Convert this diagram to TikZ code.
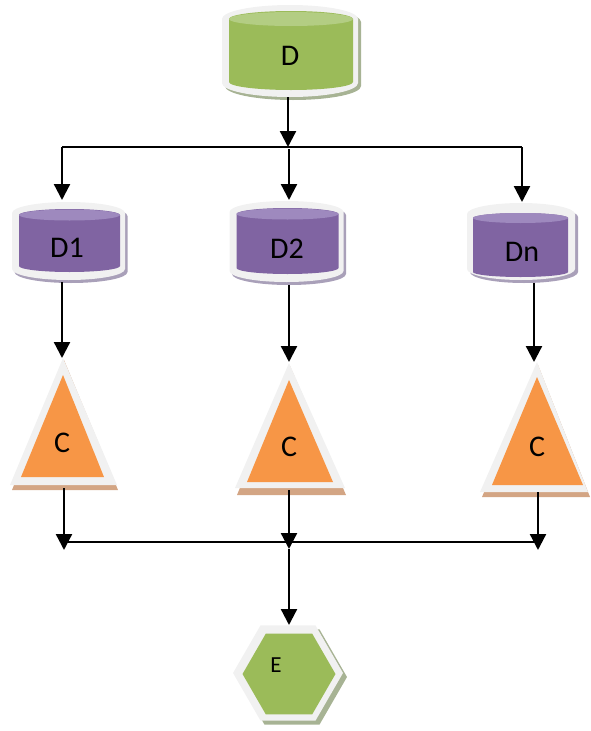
\documentclass[tikz,border=0pt]{standalone}
\usepackage{fontspec}
\setmainfont{Carlito}
\usetikzlibrary{arrows.meta}
\definecolor{rim}{HTML}{F1F1F1}
\definecolor{bodyG}{HTML}{9BBB59}
\definecolor{topG}{HTML}{B3CD83}
\definecolor{shG}{HTML}{A7B394}
\definecolor{bodyP}{HTML}{8064A2}
\definecolor{topP}{HTML}{9E89BE}
\definecolor{shP}{HTML}{A9A0B9}
\definecolor{bodyO}{HTML}{F79646}
\definecolor{shO}{HTML}{D3A584}
\newcommand{\cylshape}[6]{%
  \path[#6] (#1-#4,-#2) -- (#1-#4,-#3)
    arc[start angle=180,end angle=360,x radius=#4,y radius=#5]
    -- (#1+#4,-#2)
    arc[start angle=0,end angle=180,x radius=#4,y radius=#5] -- cycle;}
\newcommand{\trishape}[6]{%
  \path[#6] (#1,-#2) -- (#5,-#3) -- (#4,-#3) -- cycle;}
\newcommand{\hexshape}[4]{%
  \path[#4] (#1+#3,-#2) -- (#1+0.5*#3,-#2-0.866*#3) -- (#1-0.5*#3,-#2-0.866*#3)
    -- (#1-#3,-#2) -- (#1-0.5*#3,-#2+0.866*#3) -- (#1+0.5*#3,-#2+0.866*#3) -- cycle;}
\begin{document}
\begin{tikzpicture}[x=1pt,y=1pt,
  lbl/.style={inner sep=0pt,font=\fontsize{30}{34}\selectfont},
  lblsmall/.style={inner sep=0pt,font=\fontsize{23}{26}\selectfont},
  conn/.style={line width=2.3pt,-{Triangle[length=16pt,width=16pt]}},
  bus/.style={line width=1.8pt}]
\useasboundingbox (0,0) rectangle (590,-731);
% ---- D ----
\cylshape{293}{22}{86}{68}{14}{fill=shG}
\cylshape{290}{19}{83}{68}{14}{fill=rim}
\cylshape{291}{19}{82}{62}{8}{fill=bodyG}
\fill[topG] (291,-19) ellipse[x radius=62,y radius=7];
\node[lbl] (D) at (290,-56) {D};
% ---- D1 ----
\cylshape{71}{216}{272}{56.5}{11}{fill=shP}
\cylshape{68.5}{213}{269}{56.5}{11}{fill=rim}
\cylshape{69.5}{215}{266}{50.5}{6}{fill=bodyP}
\fill[topP] (69.5,-215) ellipse[x radius=50.5,y radius=5.5];
\node[lbl] (D1) at (67,-248) {D1};
% ---- D2 ----
\cylshape{289}{215}{274}{57}{11}{fill=shP}
\cylshape{286.5}{212}{271}{57}{11}{fill=rim}
\cylshape{287.5}{214}{268}{51}{6}{fill=bodyP}
\fill[topP] (287.5,-214) ellipse[x radius=51,y radius=5.5];
\node[lbl] (D2) at (287,-249) {D2};
% ---- Dn ----
\cylshape{524}{217}{272}{54}{11}{fill=shP}
\cylshape{521}{214}{269}{54}{11}{fill=rim}
\cylshape{520.5}{218}{272}{47.5}{5}{fill=bodyP}
\fill[topP] (520.5,-218) ellipse[x radius=47.5,y radius=5];
\node[lbl] (Dn) at (522,-252) {Dn};
% ---- triangles ----
\trishape{64}{360}{490}{12}{118}{fill=shO}
\trishape{63}{358}{485}{10}{117}{fill=rim}
\trishape{63}{375}{477}{21}{104}{fill=bodyO}
\node[lbl] (C1) at (62,-443) {C};
\trishape{290}{366}{495}{237}{346}{fill=shO}
\trishape{289}{363}{488}{235}{345}{fill=rim}
\trishape{289}{380}{482}{247}{333}{fill=bodyO}
\node[lbl] (C2) at (289,-447) {C};
\trishape{538}{365}{497}{482}{590}{fill=shO}
\trishape{537}{362}{492}{480}{588}{fill=rim}
\trishape{537}{377}{485}{492}{583}{fill=bodyO}
\node[lbl] (C3) at (537,-447) {C};
% ---- E ----
\hexshape{292}{677}{55}{fill=shG}
\hexshape{288}{673}{55}{fill=rim}
\hexshape{289}{674}{46.5}{fill=bodyG}
\node[lblsmall] (E) at (276,-665) {E};
% ---- connector points ----
\coordinate (Dout) at (288,-97);
\coordinate (Jtop) at (288,-147);
\coordinate (BL) at (62,-147);
\coordinate (BM) at (289,-149);
\coordinate (BR) at (522,-147);
\coordinate (D1in) at (62,-200);
\coordinate (D2in) at (289,-200);
\coordinate (Dnin) at (522,-202);
\coordinate (D1out) at (62,-282);
\coordinate (D2out) at (289,-285);
\coordinate (Dnout) at (534,-283);
\coordinate (C1in) at (62,-358);
\coordinate (C2in) at (289,-362);
\coordinate (C3in) at (534,-362);
\coordinate (C1out) at (64,-488);
\coordinate (C2out) at (289,-490);
\coordinate (C3out) at (538,-492);
\coordinate (LL) at (64,-542);
\coordinate (LR) at (538,-542);
\coordinate (J1) at (64,-550);
\coordinate (J2) at (289,-549);
\coordinate (J3) at (538,-550);
\coordinate (Ein) at (289,-625);
% ---- connectors ----
\draw[conn] (Dout) -- (Jtop);
\draw[bus] (BL) -- (BR);
\draw[conn] (BL) -- (D1in);
\draw[conn] (BM) -- (D2in);
\draw[conn] (BR) -- (Dnin);
\draw[conn] (D1out) -- (C1in);
\draw[conn] (D2out) -- (C2in);
\draw[conn] (Dnout) -- (C3in);
\draw[bus] (LL) -- (LR);
\draw[conn] (C1out) -- (J1);
\draw[conn] (C2out) -- (J2);
\draw[conn] (C3out) -- (J3);
\draw[conn] (J2) -- (Ein);
\end{tikzpicture}
\end{document}
